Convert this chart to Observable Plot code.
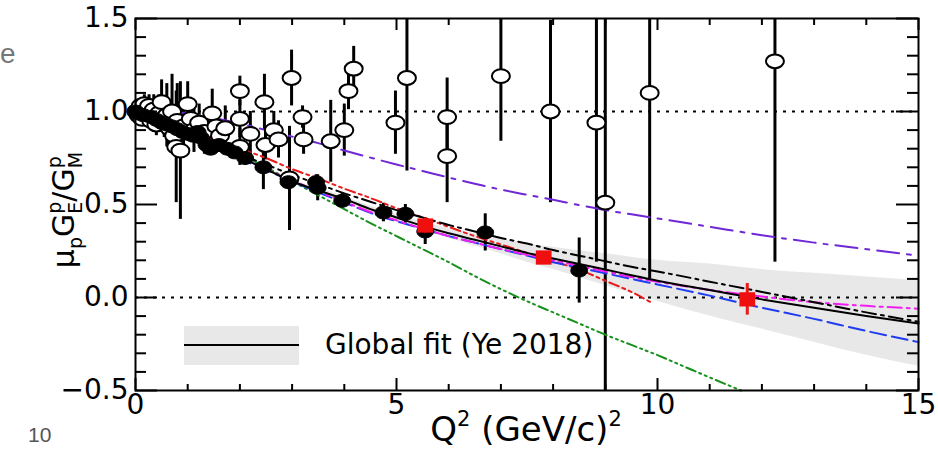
<!DOCTYPE html>
<html>
<head>
<meta charset="utf-8">
<script src="https://cdn.jsdelivr.net/npm/d3@7"></script>
<script src="https://cdn.jsdelivr.net/npm/@observablehq/plot@0.6"></script>
<style>
  body { margin: 0; background: #fff; }
  #wrap { position: relative; width: 938px; height: 450px; overflow: hidden; }
  .stray { position: absolute; font-family: "Liberation Sans", Arial, sans-serif; color: #555; line-height: 1; }
</style>
</head>
<body>
<div id="wrap">
  <div id="chart"></div>
  <div class="stray" style="left:0px; top:40px; font-size:28px; color:#777;">e</div>
  <div class="stray" style="left:28px; top:424px; font-size:21px;">10</div>
</div>
<script>
// ---------------- data ----------------
// Rosenbluth separations (open circles): Q2, ratio, error
const rosenQ2  = [0.02,0.06,0.10,0.13,0.17,0.21,0.26,0.30,0.35,0.40,0.45,0.50,0.55,0.60,0.65,0.70,0.74,0.80,0.78,0.86,0.92,1.00,1.06,1.12,1.22,1.32,1.47,1.55,1.62,1.72,2.0,2.0,2.0,2.2,2.47,2.49,2.65,2.74,2.99,2.95,3.2,3.22,3.74,4.0,4.08,4.18,4.98,5.2,5.97,5.97,7.0,7.95,8.83,9.0,9.85,12.25];
const rosenVal = [1.00,0.98,1.03,0.96,1.04,0.99,1.03,0.95,1.01,0.93,0.99,1.05,0.94,0.98,0.91,1.00,0.87,0.95,0.81,0.79,0.92,1.04,0.96,0.90,0.94,0.89,0.99,0.92,0.87,0.91,1.11,0.96,0.81,0.88,1.05,0.82,0.90,0.85,1.18,0.64,0.97,0.85,0.84,0.90,1.11,1.23,0.94,1.18,0.97,0.76,1.19,1.00,0.94,0.51,1.10,1.27];
const rosenErr = [0.03,0.03,0.04,0.03,0.05,0.04,0.06,0.05,0.08,0.06,0.10,0.12,0.08,0.17,0.12,0.20,0.10,0.20,0.30,0.37,0.15,0.12,0.10,0.12,0.10,0.12,0.13,0.10,0.08,0.12,0.08,0.10,0.10,0.12,0.15,0.08,0.10,0.10,0.15,0.28,0.06,0.08,0.22,0.14,0.10,0.12,0.17,0.50,0.21,0.25,0.35,0.49,0.75,1.10,1.00,1.08];

// Polarization transfer (filled circles)
const polQ2  = [0.0,0.05,0.15,0.3,0.4,0.5,0.6,0.7,0.8,0.9,1.0,1.1,1.19,1.25,1.36,1.44,1.6,1.76,1.9,2.1,2.45,2.93,3.46,3.49,3.96,4.75,5.17,5.55,6.7,8.5];
const polVal = [1.0,0.99,0.98,0.97,0.955,0.94,0.93,0.92,0.905,0.89,0.88,0.87,0.89,0.86,0.82,0.80,0.82,0.80,0.78,0.75,0.70,0.62,0.62,0.59,0.52,0.457,0.45,0.355,0.35,0.145];
const polErr = [0.01,0.02,0.02,0.02,0.02,0.03,0.02,0.03,0.03,0.03,0.03,0.03,0.04,0.03,0.03,0.03,0.03,0.03,0.03,0.04,0.12,0.04,0.04,0.07,0.04,0.05,0.05,0.07,0.10,0.175];

// Newest data (red squares)
const newQ2  = [5.55, 7.82, 11.72];
const newVal = [0.387, 0.215, -0.01];
const newErr = [0.04, 0.03, 0.085];

// Curves
const gridQ2   = [0,0.5,1,1.5,2,2.5,3,3.5,4,4.5,5,5.5,6,6.5,7,7.5,8,8.5,9,9.5,10,11,12,13,14,15];
const yeFit    = [1.0,0.94,0.875,0.815,0.755,0.69,0.625,0.575,0.53,0.475,0.43,0.385,0.345,0.31,0.275,0.24,0.21,0.18,0.15,0.12,0.09,0.04,-0.01,-0.055,-0.1,-0.14];
const yeHi     = [1.0,0.945,0.883,0.825,0.765,0.70,0.635,0.587,0.543,0.49,0.448,0.407,0.372,0.343,0.315,0.29,0.27,0.252,0.235,0.217,0.20,0.18,0.15,0.13,0.11,0.09];
const yeLo     = [1.0,0.935,0.867,0.805,0.745,0.68,0.615,0.563,0.517,0.46,0.412,0.363,0.318,0.277,0.235,0.19,0.15,0.108,0.065,0.023,-0.02,-0.10,-0.17,-0.24,-0.31,-0.37];
const blackDD  = [1,0.945,0.885,0.83,0.77,0.715,0.66,0.61,0.56,0.515,0.47,0.43,0.39,0.355,0.32,0.29,0.255,0.225,0.195,0.165,0.14,0.085,0.03,-0.025,-0.08,-0.13];
const blueDash = [1,0.935,0.87,0.805,0.745,0.685,0.625,0.565,0.51,0.455,0.41,0.37,0.33,0.295,0.26,0.225,0.19,0.16,0.13,0.1,0.07,0.01,-0.055,-0.115,-0.18,-0.24];
const magentaDD= [1,0.94,0.88,0.815,0.755,0.69,0.63,0.57,0.515,0.46,0.415,0.37,0.33,0.295,0.26,0.23,0.2,0.17,0.14,0.11,0.085,0.04,0.005,-0.025,-0.045,-0.06];
const purpleDD = [1,1,0.99,0.965,0.935,0.9,0.865,0.83,0.79,0.752,0.715,0.68,0.645,0.612,0.58,0.552,0.525,0.497,0.47,0.447,0.425,0.38,0.335,0.295,0.26,0.225];
const redQ2    = [0,0.5,1,1.5,2,2.5,3,3.5,4,4.5,5,5.5,6,6.5,7,7.5,8,8.5,9,9.5,9.9];
const redDDD   = [1,0.95,0.9,0.85,0.8,0.75,0.69,0.64,0.585,0.535,0.48,0.43,0.38,0.33,0.285,0.24,0.195,0.15,0.09,0.03,-0.03];
const greenQ2  = [0,0.5,1,1.5,2,2.5,3,3.5,4,4.5,5,5.5,6,6.5,7,7.5,8,8.5,9,9.5,10,10.5,11,11.6];
const greenDDD = [1,0.95,0.89,0.83,0.77,0.7,0.625,0.55,0.475,0.4,0.33,0.26,0.19,0.115,0.045,-0.02,-0.08,-0.14,-0.2,-0.255,-0.31,-0.37,-0.43,-0.5];

const refLines = [0, 1];
const xMajor = [0, 5, 10, 15];
const xMinor = [1,2,3,4,6,7,8,9,11,12,13,14];
const yMajor = [-0.5, 0, 0.5, 1, 1.5];
const yMinor = [-0.4,-0.3,-0.2,-0.1,0.1,0.2,0.3,0.4,0.6,0.7,0.8,0.9,1.1,1.2,1.3,1.4];

// ---------------- build ----------------
const Y0 = -0.5, Y1 = 1.5;
const clampY = v => Math.max(Y0, Math.min(Y1, v));
const pts = (qs, vs, es) => qs.map((q, i) => ({q, v: vs[i], e: es ? es[i] : 0}));
const curve = (qs, vs) => qs.map((q, i) => ({q, v: vs[i]}));

const rosen = pts(rosenQ2, rosenVal, rosenErr);
const pol = pts(polQ2, polVal, polErr);
const news = pts(newQ2, newVal, newErr);
const band = gridQ2.map((q, i) => ({q, lo: yeLo[i], hi: yeHi[i]}));

const K = 0.5523;
const ellipse = {
  draw(ctx, size) {
    const r = Math.sqrt(size / Math.PI), rx = r * 1.2, ry = r * 0.92;
    ctx.moveTo(rx, 0);
    ctx.bezierCurveTo(rx, ry*K, rx*K, ry, 0, ry);
    ctx.bezierCurveTo(-rx*K, ry, -rx, ry*K, -rx, 0);
    ctx.bezierCurveTo(-rx, -ry*K, -rx*K, -ry, 0, -ry);
    ctx.bezierCurveTo(rx*K, -ry, rx, -ry*K, rx, 0);
    ctx.closePath();
  }
};
const box = {
  draw(ctx, size) {
    const r = Math.sqrt(size / Math.PI), rx = r * 1.05, ry = r * 0.95;
    ctx.moveTo(-rx, -ry); ctx.lineTo(rx, -ry); ctx.lineTo(rx, ry); ctx.lineTo(-rx, ry); ctx.closePath();
  }
};

const W = 938, H = 450, ML = 135, MR = 20, MT = 18, MB = 60;
const FW = W - ML - MR, FH = H - MT - MB;

const line = (data, stroke, dash, w = 2) =>
  Plot.line(data, {x: "q", y: "v", stroke, strokeWidth: w, strokeDasharray: dash, curve: "monotone-x"});

const chart = Plot.plot({
  width: W, height: H,
  marginLeft: ML, marginRight: MR, marginTop: MT, marginBottom: MB,
  x: {domain: [0, 15], axis: null},
  y: {domain: [Y0, Y1], axis: null},
  style: {fontFamily: "DejaVu Sans, sans-serif", background: "white"},
  marks: [
    Plot.areaY(band, {x: "q", y1: "lo", y2: "hi", fill: "#e8e8e8", curve: "monotone-x"}),
    Plot.ruleY(refLines, {y: d => d, stroke: "black", strokeWidth: 2, strokeDasharray: "3,6"}),
    // error bars
    Plot.ruleX(rosen, {x: "q", y1: d => clampY(d.v - d.e), y2: d => clampY(d.v + d.e), stroke: "black", strokeWidth: 3}),
    Plot.ruleX(pol, {x: "q", y1: d => clampY(d.v - d.e), y2: d => clampY(d.v + d.e), stroke: "black", strokeWidth: 3}),
    // curves
    line(curve(gridQ2, purpleDD), "#7027d6", "22,8,4,8"),
    line(curve(greenQ2, greenDDD), "#16911c", "10,4,2,4,2,4,2,4"),
    line(curve(redQ2, redDDD), "#e81a1a", "10,4,3,4,3,4"),
    line(curve(gridQ2, blueDash), "#1f3cf2", "16,6"),
    line(curve(gridQ2, magentaDD), "#f01ef0", "14,5,3,5"),
    line(curve(gridQ2, blackDD), "black", "14,5,3,5"),
    line(curve(gridQ2, yeFit), "black", null),
    // points
    Plot.dot(rosen, {x: "q", y: "v", symbol: ellipse, r: 7.5, fill: "white", stroke: "black", strokeWidth: 2}),
    Plot.dot(pol, {x: "q", y: "v", symbol: ellipse, r: 7, fill: "black", stroke: "black", strokeWidth: 1}),
    Plot.ruleX(news, {x: "q", y1: d => clampY(d.v - d.e), y2: d => clampY(d.v + d.e), stroke: "#e81a1a", strokeWidth: 3}),
    Plot.dot(news, {x: "q", y: "v", symbol: box, r: 7.5, fill: "#f00f0f", stroke: "none"}),
    // inward ticks
    Plot.tickY(yMajor, {y: d => d, insetRight: FW - 22, stroke: "black", strokeWidth: 2}),
    Plot.tickY(yMinor, {y: d => d, insetRight: FW - 11, stroke: "black", strokeWidth: 2}),
    Plot.tickY(yMajor, {y: d => d, insetLeft: FW - 22, stroke: "black", strokeWidth: 2}),
    Plot.tickY(yMinor, {y: d => d, insetLeft: FW - 11, stroke: "black", strokeWidth: 2}),
    Plot.tickX(xMajor, {x: d => d, insetTop: FH - 12, stroke: "black", strokeWidth: 2}),
    Plot.tickX(xMinor, {x: d => d, insetTop: FH - 6, stroke: "black", strokeWidth: 2}),
    Plot.tickX(xMajor, {x: d => d, insetBottom: FH - 12, stroke: "black", strokeWidth: 2}),
    Plot.tickX(xMinor, {x: d => d, insetBottom: FH - 7, stroke: "black", strokeWidth: 2}),
    // tick labels
    Plot.text(xMajor, {x: d => d, frameAnchor: "bottom", lineAnchor: "top", dy: 4, text: d => String(d), fontSize: 28, fill: "black"}),
    Plot.text(yMajor, {y: d => d, frameAnchor: "left", textAnchor: "end", dx: -7, text: d => d3.format(".1f")(d), fontSize: 28, fill: "black"}),
    Plot.frame({stroke: "black", strokeWidth: 2})
  ]
});
document.getElementById("chart").appendChild(chart);

// ---------------- titles & legend ----------------
const svg = d3.select(chart);
// x-axis title
const xt = svg.append("text")
  .attr("x", 526).attr("y", 441).attr("text-anchor", "middle")
  .attr("font-family", "DejaVu Sans, sans-serif").attr("font-size", 34).attr("fill", "black");
xt.append("tspan").text("Q");
xt.append("tspan").attr("font-size", 21).attr("dy", -15).text("2");
xt.append("tspan").attr("dy", 15).text(" (GeV/c)");
xt.append("tspan").attr("font-size", 21).attr("dy", -15).text("2");

// y-axis title
const yt = svg.append("text")
  .attr("transform", "translate(74,210) rotate(-90)").attr("text-anchor", "middle")
  .attr("font-family", "DejaVu Sans, sans-serif").attr("font-size", 30).attr("fill", "black");
yt.append("tspan").text("μ");
yt.append("tspan").attr("font-size", 19).attr("dy", 8).text("p");
yt.append("tspan").attr("dy", -8).text("G");
yt.append("tspan").attr("font-size", 19).attr("dy", -13).text("p");
yt.append("tspan").attr("font-size", 19).attr("dx", -12).attr("dy", 21).text("E");
yt.append("tspan").attr("dy", -8).text("/G");
yt.append("tspan").attr("font-size", 19).attr("dy", -13).text("p");
yt.append("tspan").attr("font-size", 19).attr("dx", -12).attr("dy", 21).text("M");

// legend
const lg = svg.append("g");
lg.append("rect").attr("x", 184).attr("y", 326).attr("width", 115).attr("height", 39).attr("fill", "#e8e8e8");
lg.append("line").attr("x1", 184).attr("x2", 299).attr("y1", 345).attr("y2", 345).attr("stroke", "black").attr("stroke-width", 2);
lg.append("text").attr("x", 325).attr("y", 354).attr("text-anchor", "start")
  .attr("font-family", "DejaVu Sans, sans-serif").attr("font-size", 28).attr("fill", "black")
  .text("Global fit (Ye 2018)");
</script>
</body>
</html>
